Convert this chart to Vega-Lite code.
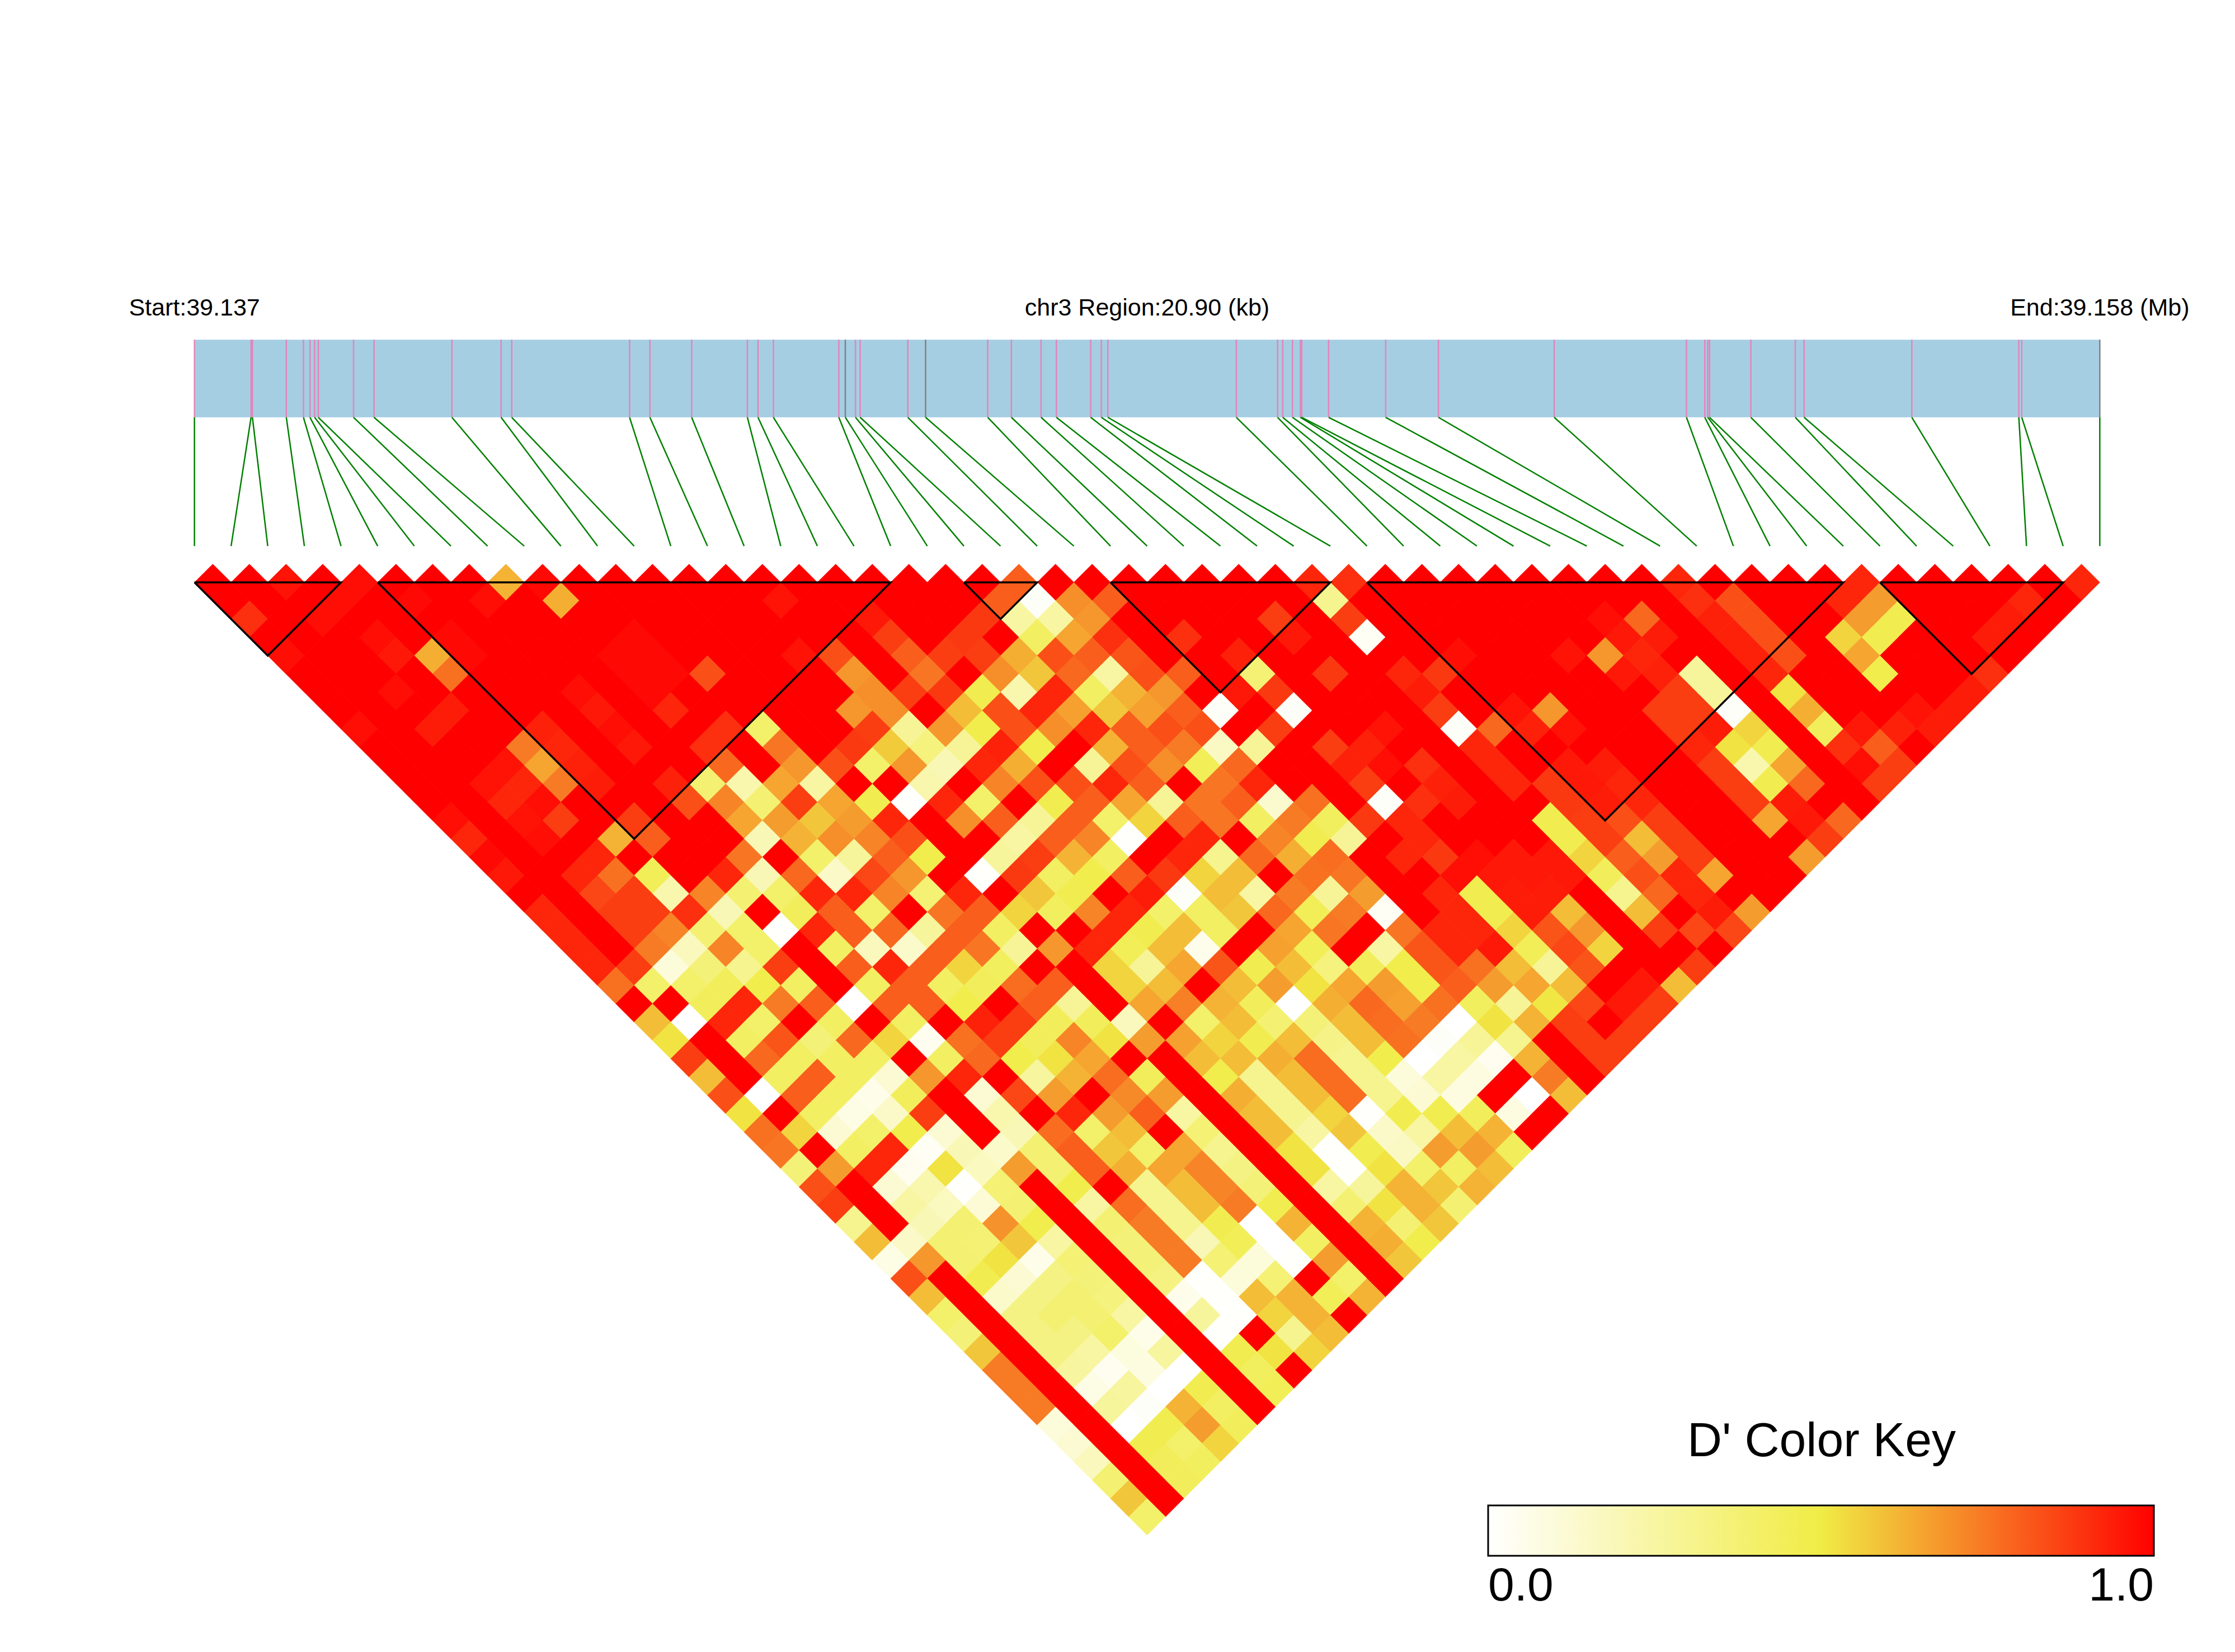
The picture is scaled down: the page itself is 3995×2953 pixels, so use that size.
{"$schema":"https://vega.github.io/schema/vega-lite/v6.json","width":3995,"height":2953,"padding":0,"autosize":{"type":"fit","contains":"padding"},"background":"white","config":{"view":{"stroke":null}},"datasets":{"cells":[
{"x":0.5,"r":0,"d":1},{"x":1.5,"r":0,"d":1},{"x":2.5,"r":0,"d":0.96},{"x":3.5,"r":0,"d":1},{"x":4.5,"r":0,"d":0.97},{"x":5.5,"r":0,"d":1},{"x":6.5,"r":0,"d":1},{"x":7.5,"r":0,"d":1},{"x":8.5,"r":0,"d":0.62},{"x":9.5,"r":0,"d":0.98},{"x":10.5,"r":0,"d":1},{"x":11.5,"r":0,"d":1},{"x":12.5,"r":0,"d":1},{"x":13.5,"r":0,"d":1},{"x":14.5,"r":0,"d":1},{"x":15.5,"r":0,"d":1},{"x":16.5,"r":0,"d":1},{"x":17.5,"r":0,"d":1},{"x":18.5,"r":0,"d":1},{"x":19.5,"r":0,"d":1},{"x":20.5,"r":0,"d":1},{"x":21.5,"r":0,"d":1},{"x":22.5,"r":0,"d":0.8},{"x":23.5,"r":0,"d":1},{"x":24.5,"r":0,"d":1},{"x":25.5,"r":0,"d":1},{"x":26.5,"r":0,"d":1},{"x":27.5,"r":0,"d":1},{"x":28.5,"r":0,"d":1},{"x":29.5,"r":0,"d":1},{"x":30.5,"r":0,"d":0.92},{"x":31.5,"r":0,"d":0.9},{"x":32.5,"r":0,"d":1},{"x":33.5,"r":0,"d":1},{"x":34.5,"r":0,"d":1},{"x":35.5,"r":0,"d":1},{"x":36.5,"r":0,"d":1},{"x":37.5,"r":0,"d":1},{"x":38.5,"r":0,"d":1},{"x":39.5,"r":0,"d":1},{"x":40.5,"r":0,"d":0.92},{"x":41.5,"r":0,"d":1},{"x":42.5,"r":0,"d":1},{"x":43.5,"r":0,"d":1},{"x":44.5,"r":0,"d":1},{"x":45.5,"r":0,"d":0.92},{"x":46.5,"r":0,"d":1},{"x":47.5,"r":0,"d":1},{"x":48.5,"r":0,"d":1},{"x":49.5,"r":0,"d":1},{"x":50.5,"r":0,"d":1},{"x":51.5,"r":0,"d":0.92},
{"x":1,"r":1,"d":1},{"x":2,"r":1,"d":1},{"x":3,"r":1,"d":1},{"x":4,"r":1,"d":0.97},{"x":5,"r":1,"d":1},{"x":6,"r":1,"d":0.98},{"x":7,"r":1,"d":1},{"x":8,"r":1,"d":0.97},{"x":9,"r":1,"d":1},{"x":10,"r":1,"d":0.63},{"x":11,"r":1,"d":1},{"x":12,"r":1,"d":1},{"x":13,"r":1,"d":1},{"x":14,"r":1,"d":1},{"x":15,"r":1,"d":1},{"x":16,"r":1,"d":0.96},{"x":17,"r":1,"d":1},{"x":18,"r":1,"d":1},{"x":19,"r":1,"d":1},{"x":20,"r":1,"d":1},{"x":21,"r":1,"d":1},{"x":22,"r":1,"d":0.8},{"x":23,"r":1,"d":0.02},{"x":24,"r":1,"d":0.7},{"x":25,"r":1,"d":0.8},{"x":26,"r":1,"d":1},{"x":27,"r":1,"d":1},{"x":28,"r":1,"d":1},{"x":29,"r":1,"d":1},{"x":30,"r":1,"d":1},{"x":31,"r":1,"d":0.3},{"x":32,"r":1,"d":1},{"x":33,"r":1,"d":1},{"x":34,"r":1,"d":1},{"x":35,"r":1,"d":1},{"x":36,"r":1,"d":1},{"x":37,"r":1,"d":1},{"x":38,"r":1,"d":1},{"x":39,"r":1,"d":1},{"x":40,"r":1,"d":1},{"x":41,"r":1,"d":0.9},{"x":42,"r":1,"d":0.83},{"x":43,"r":1,"d":1},{"x":44,"r":1,"d":1},{"x":45,"r":1,"d":0.92},{"x":46,"r":1,"d":0.67},{"x":47,"r":1,"d":1},{"x":48,"r":1,"d":1},{"x":49,"r":1,"d":1},{"x":50,"r":1,"d":0.92},{"x":51,"r":1,"d":1},
{"x":1.5,"r":2,"d":0.9},{"x":2.5,"r":2,"d":1},{"x":3.5,"r":2,"d":0.97},{"x":4.5,"r":2,"d":1},{"x":5.5,"r":2,"d":1},{"x":6.5,"r":2,"d":1},{"x":7.5,"r":2,"d":1},{"x":8.5,"r":2,"d":1},{"x":9.5,"r":2,"d":1},{"x":10.5,"r":2,"d":1},{"x":11.5,"r":2,"d":1},{"x":12.5,"r":2,"d":1},{"x":13.5,"r":2,"d":1},{"x":14.5,"r":2,"d":1},{"x":15.5,"r":2,"d":1},{"x":16.5,"r":2,"d":1},{"x":17.5,"r":2,"d":1},{"x":18.5,"r":2,"d":0.95},{"x":19.5,"r":2,"d":1},{"x":20.5,"r":2,"d":1},{"x":21.5,"r":2,"d":0.88},{"x":22.5,"r":2,"d":0.25},{"x":23.5,"r":2,"d":0.25},{"x":24.5,"r":2,"d":0.68},{"x":25.5,"r":2,"d":1},{"x":26.5,"r":2,"d":1},{"x":27.5,"r":2,"d":1},{"x":28.5,"r":2,"d":1},{"x":29.5,"r":2,"d":0.87},{"x":30.5,"r":2,"d":1},{"x":31.5,"r":2,"d":0.87},{"x":32.5,"r":2,"d":1},{"x":33.5,"r":2,"d":1},{"x":34.5,"r":2,"d":1},{"x":35.5,"r":2,"d":1},{"x":36.5,"r":2,"d":1},{"x":37.5,"r":2,"d":1},{"x":38.5,"r":2,"d":0.97},{"x":39.5,"r":2,"d":0.78},{"x":40.5,"r":2,"d":1},{"x":41.5,"r":2,"d":0.93},{"x":42.5,"r":2,"d":0.83},{"x":43.5,"r":2,"d":1},{"x":44.5,"r":2,"d":1},{"x":45.5,"r":2,"d":0.67},{"x":46.5,"r":2,"d":0.47},{"x":47.5,"r":2,"d":1},{"x":48.5,"r":2,"d":1},{"x":49.5,"r":2,"d":0.94},{"x":50.5,"r":2,"d":1},
{"x":2,"r":3,"d":1},{"x":3,"r":3,"d":1},{"x":4,"r":3,"d":1},{"x":5,"r":3,"d":0.97},{"x":6,"r":3,"d":1},{"x":7,"r":3,"d":0.98},{"x":8,"r":3,"d":1},{"x":9,"r":3,"d":1},{"x":10,"r":3,"d":1},{"x":11,"r":3,"d":1},{"x":12,"r":3,"d":0.98},{"x":13,"r":3,"d":1},{"x":14,"r":3,"d":1},{"x":15,"r":3,"d":1},{"x":16,"r":3,"d":1},{"x":17,"r":3,"d":1},{"x":18,"r":3,"d":1},{"x":19,"r":3,"d":0.87},{"x":20,"r":3,"d":1},{"x":21,"r":3,"d":0.88},{"x":22,"r":3,"d":1},{"x":23,"r":3,"d":0.42},{"x":24,"r":3,"d":0.65},{"x":25,"r":3,"d":0.9},{"x":26,"r":3,"d":1},{"x":27,"r":3,"d":0.9},{"x":28,"r":3,"d":1},{"x":29,"r":3,"d":1},{"x":30,"r":3,"d":0.95},{"x":31,"r":3,"d":1},{"x":32,"r":3,"d":0.03},{"x":33,"r":3,"d":1},{"x":34,"r":3,"d":1},{"x":35,"r":3,"d":1},{"x":36,"r":3,"d":1},{"x":37,"r":3,"d":1},{"x":38,"r":3,"d":1},{"x":39,"r":3,"d":0.95},{"x":40,"r":3,"d":0.94},{"x":41,"r":3,"d":1},{"x":42,"r":3,"d":0.93},{"x":43,"r":3,"d":0.83},{"x":44,"r":3,"d":1},{"x":45,"r":3,"d":0.55},{"x":46,"r":3,"d":0.47},{"x":47,"r":3,"d":1},{"x":48,"r":3,"d":1},{"x":49,"r":3,"d":0.94},{"x":50,"r":3,"d":1},
{"x":2.5,"r":4,"d":0.97},{"x":3.5,"r":4,"d":1},{"x":4.5,"r":4,"d":1},{"x":5.5,"r":4,"d":0.95},{"x":6.5,"r":4,"d":0.63},{"x":7.5,"r":4,"d":0.98},{"x":8.5,"r":4,"d":1},{"x":9.5,"r":4,"d":1},{"x":10.5,"r":4,"d":1},{"x":11.5,"r":4,"d":0.98},{"x":12.5,"r":4,"d":0.98},{"x":13.5,"r":4,"d":1},{"x":14.5,"r":4,"d":1},{"x":15.5,"r":4,"d":1},{"x":16.5,"r":4,"d":0.96},{"x":17.5,"r":4,"d":0.83},{"x":18.5,"r":4,"d":1},{"x":19.5,"r":4,"d":0.8},{"x":20.5,"r":4,"d":0.87},{"x":21.5,"r":4,"d":0.87},{"x":22.5,"r":4,"d":0.63},{"x":23.5,"r":4,"d":0.83},{"x":24.5,"r":4,"d":0.8},{"x":25.5,"r":4,"d":0.82},{"x":26.5,"r":4,"d":1},{"x":27.5,"r":4,"d":1},{"x":28.5,"r":4,"d":0.93},{"x":29.5,"r":4,"d":1},{"x":30.5,"r":4,"d":1},{"x":31.5,"r":4,"d":1},{"x":32.5,"r":4,"d":1},{"x":33.5,"r":4,"d":1},{"x":34.5,"r":4,"d":0.97},{"x":35.5,"r":4,"d":1},{"x":36.5,"r":4,"d":1},{"x":37.5,"r":4,"d":0.96},{"x":38.5,"r":4,"d":0.68},{"x":39.5,"r":4,"d":0.92},{"x":40.5,"r":4,"d":1},{"x":41.5,"r":4,"d":1},{"x":42.5,"r":4,"d":0.93},{"x":43.5,"r":4,"d":0.83},{"x":44.5,"r":4,"d":1},{"x":45.5,"r":4,"d":0.65},{"x":46.5,"r":4,"d":1},{"x":47.5,"r":4,"d":1},{"x":48.5,"r":4,"d":1},{"x":49.5,"r":4,"d":1},
{"x":3,"r":5,"d":1},{"x":4,"r":5,"d":1},{"x":5,"r":5,"d":1},{"x":6,"r":5,"d":1},{"x":7,"r":5,"d":0.76},{"x":8,"r":5,"d":1},{"x":9,"r":5,"d":1},{"x":10,"r":5,"d":1},{"x":11,"r":5,"d":1},{"x":12,"r":5,"d":0.98},{"x":13,"r":5,"d":0.98},{"x":14,"r":5,"d":0.83},{"x":15,"r":5,"d":1},{"x":16,"r":5,"d":1},{"x":17,"r":5,"d":1},{"x":18,"r":5,"d":0.68},{"x":19,"r":5,"d":1},{"x":20,"r":5,"d":0.75},{"x":21,"r":5,"d":1},{"x":22,"r":5,"d":0.7},{"x":23,"r":5,"d":0.58},{"x":24,"r":5,"d":0.78},{"x":25,"r":5,"d":0.25},{"x":26,"r":5,"d":0.83},{"x":27,"r":5,"d":0.8},{"x":28,"r":5,"d":1},{"x":29,"r":5,"d":0.37},{"x":30,"r":5,"d":1},{"x":31,"r":5,"d":0.88},{"x":32,"r":5,"d":1},{"x":33,"r":5,"d":0.92},{"x":34,"r":5,"d":0.88},{"x":35,"r":5,"d":1},{"x":36,"r":5,"d":1},{"x":37,"r":5,"d":1},{"x":38,"r":5,"d":1},{"x":39,"r":5,"d":0.95},{"x":40,"r":5,"d":0.93},{"x":41,"r":5,"d":0.27},{"x":42,"r":5,"d":1},{"x":43,"r":5,"d":0.92},{"x":44,"r":5,"d":1},{"x":45,"r":5,"d":1},{"x":46,"r":5,"d":0.48},{"x":47,"r":5,"d":1},{"x":48,"r":5,"d":1},{"x":49,"r":5,"d":0.9},
{"x":3.5,"r":6,"d":1},{"x":4.5,"r":6,"d":1},{"x":5.5,"r":6,"d":0.97},{"x":6.5,"r":6,"d":1},{"x":7.5,"r":6,"d":1},{"x":8.5,"r":6,"d":1},{"x":9.5,"r":6,"d":1},{"x":10.5,"r":6,"d":0.97},{"x":11.5,"r":6,"d":1},{"x":12.5,"r":6,"d":0.98},{"x":13.5,"r":6,"d":1},{"x":14.5,"r":6,"d":1},{"x":15.5,"r":6,"d":1},{"x":16.5,"r":6,"d":1},{"x":17.5,"r":6,"d":1},{"x":18.5,"r":6,"d":0.7},{"x":19.5,"r":6,"d":0.87},{"x":20.5,"r":6,"d":0.88},{"x":21.5,"r":6,"d":0.47},{"x":22.5,"r":6,"d":0.22},{"x":23.5,"r":6,"d":0.92},{"x":24.5,"r":6,"d":0.42},{"x":25.5,"r":6,"d":0.62},{"x":26.5,"r":6,"d":0.68},{"x":27.5,"r":6,"d":1},{"x":28.5,"r":6,"d":0.95},{"x":29.5,"r":6,"d":0.88},{"x":30.5,"r":6,"d":1},{"x":31.5,"r":6,"d":1},{"x":32.5,"r":6,"d":1},{"x":33.5,"r":6,"d":0.94},{"x":34.5,"r":6,"d":1},{"x":35.5,"r":6,"d":1},{"x":36.5,"r":6,"d":1},{"x":37.5,"r":6,"d":1},{"x":38.5,"r":6,"d":1},{"x":39.5,"r":6,"d":1},{"x":40.5,"r":6,"d":0.87},{"x":41.5,"r":6,"d":0.27},{"x":42.5,"r":6,"d":1},{"x":43.5,"r":6,"d":0.52},{"x":44.5,"r":6,"d":1},{"x":45.5,"r":6,"d":1},{"x":46.5,"r":6,"d":1},{"x":47.5,"r":6,"d":1},{"x":48.5,"r":6,"d":0.94},
{"x":4,"r":7,"d":1},{"x":5,"r":7,"d":1},{"x":6,"r":7,"d":1},{"x":7,"r":7,"d":0.94},{"x":8,"r":7,"d":1},{"x":9,"r":7,"d":1},{"x":10,"r":7,"d":1},{"x":11,"r":7,"d":0.95},{"x":12,"r":7,"d":1},{"x":13,"r":7,"d":0.92},{"x":14,"r":7,"d":1},{"x":15,"r":7,"d":1},{"x":16,"r":7,"d":1},{"x":17,"r":7,"d":1},{"x":18,"r":7,"d":0.68},{"x":19,"r":7,"d":0.7},{"x":20,"r":7,"d":1},{"x":21,"r":7,"d":0.6},{"x":22,"r":7,"d":0.83},{"x":23,"r":7,"d":0.92},{"x":24,"r":7,"d":0.66},{"x":25,"r":7,"d":0.58},{"x":26,"r":7,"d":0.66},{"x":27,"r":7,"d":0.8},{"x":28,"r":7,"d":0.02},{"x":29,"r":7,"d":1},{"x":30,"r":7,"d":0.02},{"x":31,"r":7,"d":1},{"x":32,"r":7,"d":1},{"x":33,"r":7,"d":1},{"x":34,"r":7,"d":0.87},{"x":35,"r":7,"d":1},{"x":36,"r":7,"d":0.96},{"x":37,"r":7,"d":0.68},{"x":38,"r":7,"d":1},{"x":39,"r":7,"d":1},{"x":40,"r":7,"d":0.87},{"x":41,"r":7,"d":0.87},{"x":42,"r":7,"d":0.02},{"x":43,"r":7,"d":1},{"x":44,"r":7,"d":0.63},{"x":45,"r":7,"d":1},{"x":46,"r":7,"d":1},{"x":47,"r":7,"d":0.96},{"x":48,"r":7,"d":0.94},
{"x":4.5,"r":8,"d":0.97},{"x":5.5,"r":8,"d":1},{"x":6.5,"r":8,"d":0.94},{"x":7.5,"r":8,"d":1},{"x":8.5,"r":8,"d":1},{"x":9.5,"r":8,"d":0.93},{"x":10.5,"r":8,"d":1},{"x":11.5,"r":8,"d":0.97},{"x":12.5,"r":8,"d":1},{"x":13.5,"r":8,"d":1},{"x":14.5,"r":8,"d":0.9},{"x":15.5,"r":8,"d":0.4},{"x":16.5,"r":8,"d":1},{"x":17.5,"r":8,"d":1},{"x":18.5,"r":8,"d":0.87},{"x":19.5,"r":8,"d":0.28},{"x":20.5,"r":8,"d":0.68},{"x":21.5,"r":8,"d":0.48},{"x":22.5,"r":8,"d":0.83},{"x":23.5,"r":8,"d":0.7},{"x":24.5,"r":8,"d":0.92},{"x":25.5,"r":8,"d":0.8},{"x":26.5,"r":8,"d":0.83},{"x":27.5,"r":8,"d":0.83},{"x":28.5,"r":8,"d":1},{"x":29.5,"r":8,"d":0.87},{"x":30.5,"r":8,"d":1},{"x":31.5,"r":8,"d":1},{"x":32.5,"r":8,"d":0.96},{"x":33.5,"r":8,"d":1},{"x":34.5,"r":8,"d":0.02},{"x":35.5,"r":8,"d":0.78},{"x":36.5,"r":8,"d":0.93},{"x":37.5,"r":8,"d":0.96},{"x":38.5,"r":8,"d":1},{"x":39.5,"r":8,"d":1},{"x":40.5,"r":8,"d":0.87},{"x":41.5,"r":8,"d":0.94},{"x":42.5,"r":8,"d":0.55},{"x":43.5,"r":8,"d":1},{"x":44.5,"r":8,"d":0.44},{"x":45.5,"r":8,"d":0.95},{"x":46.5,"r":8,"d":0.93},{"x":47.5,"r":8,"d":0.94},
{"x":5,"r":9,"d":1},{"x":6,"r":9,"d":1},{"x":7,"r":9,"d":1},{"x":8,"r":9,"d":1},{"x":9,"r":9,"d":0.74},{"x":10,"r":9,"d":0.92},{"x":11,"r":9,"d":1},{"x":12,"r":9,"d":0.95},{"x":13,"r":9,"d":1},{"x":14,"r":9,"d":0.9},{"x":15,"r":9,"d":1},{"x":16,"r":9,"d":0.75},{"x":17,"r":9,"d":1},{"x":18,"r":9,"d":0.88},{"x":19,"r":9,"d":0.57},{"x":20,"r":9,"d":0.35},{"x":21,"r":9,"d":0.28},{"x":22,"r":9,"d":0.93},{"x":23,"r":9,"d":0.48},{"x":24,"r":9,"d":1},{"x":25,"r":9,"d":0.62},{"x":26,"r":9,"d":0.8},{"x":27,"r":9,"d":0.74},{"x":28,"r":9,"d":0.16},{"x":29,"r":9,"d":0.28},{"x":30,"r":9,"d":1},{"x":31,"r":9,"d":0.87},{"x":32,"r":9,"d":0.93},{"x":33,"r":9,"d":1},{"x":34,"r":9,"d":1},{"x":35,"r":9,"d":0.92},{"x":36,"r":9,"d":1},{"x":37,"r":9,"d":1},{"x":38,"r":9,"d":1},{"x":39,"r":9,"d":1},{"x":40,"r":9,"d":1},{"x":41,"r":9,"d":0.92},{"x":42,"r":9,"d":0.52},{"x":43,"r":9,"d":0.47},{"x":44,"r":9,"d":1},{"x":45,"r":9,"d":0.9},{"x":46,"r":9,"d":0.8},{"x":47,"r":9,"d":1},
{"x":5.5,"r":10,"d":1},{"x":6.5,"r":10,"d":1},{"x":7.5,"r":10,"d":1},{"x":8.5,"r":10,"d":0.96},{"x":9.5,"r":10,"d":0.65},{"x":10.5,"r":10,"d":0.93},{"x":11.5,"r":10,"d":1},{"x":12.5,"r":10,"d":1},{"x":13.5,"r":10,"d":1},{"x":14.5,"r":10,"d":0.78},{"x":15.5,"r":10,"d":1},{"x":16.5,"r":10,"d":0.68},{"x":17.5,"r":10,"d":0.83},{"x":18.5,"r":10,"d":0.4},{"x":19.5,"r":10,"d":0.68},{"x":20.5,"r":10,"d":0.2},{"x":21.5,"r":10,"d":0.92},{"x":22.5,"r":10,"d":0.63},{"x":23.5,"r":10,"d":1},{"x":24.5,"r":10,"d":0.28},{"x":25.5,"r":10,"d":0.83},{"x":26.5,"r":10,"d":0.7},{"x":27.5,"r":10,"d":0.45},{"x":28.5,"r":10,"d":0.78},{"x":29.5,"r":10,"d":1},{"x":30.5,"r":10,"d":1},{"x":31.5,"r":10,"d":0.93},{"x":32.5,"r":10,"d":0.97},{"x":33.5,"r":10,"d":0.9},{"x":34.5,"r":10,"d":1},{"x":35.5,"r":10,"d":0.92},{"x":36.5,"r":10,"d":1},{"x":37.5,"r":10,"d":0.95},{"x":38.5,"r":10,"d":0.94},{"x":39.5,"r":10,"d":1},{"x":40.5,"r":10,"d":1},{"x":41.5,"r":10,"d":0.87},{"x":42.5,"r":10,"d":0.22},{"x":43.5,"r":10,"d":0.65},{"x":44.5,"r":10,"d":1},{"x":45.5,"r":10,"d":0.97},{"x":46.5,"r":10,"d":0.87},
{"x":6,"r":11,"d":1},{"x":7,"r":11,"d":1},{"x":8,"r":11,"d":0.96},{"x":9,"r":11,"d":0.92},{"x":10,"r":11,"d":0.74},{"x":11,"r":11,"d":0.94},{"x":12,"r":11,"d":1},{"x":13,"r":11,"d":0.93},{"x":14,"r":11,"d":0.38},{"x":15,"r":11,"d":0.22},{"x":16,"r":11,"d":0.65},{"x":17,"r":11,"d":0.25},{"x":18,"r":11,"d":1},{"x":19,"r":11,"d":1},{"x":20,"r":11,"d":0.22},{"x":21,"r":11,"d":1},{"x":22,"r":11,"d":0.72},{"x":23,"r":11,"d":0.83},{"x":24,"r":11,"d":0.83},{"x":25,"r":11,"d":0.92},{"x":26,"r":11,"d":0.8},{"x":27,"r":11,"d":1},{"x":28,"r":11,"d":0.75},{"x":29,"r":11,"d":0.92},{"x":30,"r":11,"d":1},{"x":31,"r":11,"d":1},{"x":32,"r":11,"d":0.87},{"x":33,"r":11,"d":1},{"x":34,"r":11,"d":0.93},{"x":35,"r":11,"d":1},{"x":36,"r":11,"d":0.92},{"x":37,"r":11,"d":0.88},{"x":38,"r":11,"d":0.95},{"x":39,"r":11,"d":0.92},{"x":40,"r":11,"d":1},{"x":41,"r":11,"d":1},{"x":42,"r":11,"d":0.87},{"x":43,"r":11,"d":0.47},{"x":44,"r":11,"d":0.78},{"x":45,"r":11,"d":1},{"x":46,"r":11,"d":0.87},
{"x":6.5,"r":12,"d":1},{"x":7.5,"r":12,"d":1},{"x":8.5,"r":12,"d":0.92},{"x":9.5,"r":12,"d":0.97},{"x":10.5,"r":12,"d":1},{"x":11.5,"r":12,"d":1},{"x":12.5,"r":12,"d":1},{"x":13.5,"r":12,"d":0.83},{"x":14.5,"r":12,"d":0.72},{"x":15.5,"r":12,"d":0.38},{"x":16.5,"r":12,"d":0.87},{"x":17.5,"r":12,"d":0.65},{"x":18.5,"r":12,"d":0.47},{"x":19.5,"r":12,"d":0.01},{"x":20.5,"r":12,"d":0.92},{"x":21.5,"r":12,"d":0.4},{"x":22.5,"r":12,"d":1},{"x":23.5,"r":12,"d":0.47},{"x":24.5,"r":12,"d":0.8},{"x":25.5,"r":12,"d":0.65},{"x":26.5,"r":12,"d":0.28},{"x":27.5,"r":12,"d":0.75},{"x":28.5,"r":12,"d":0.8},{"x":29.5,"r":12,"d":0.13},{"x":30.5,"r":12,"d":0.76},{"x":31.5,"r":12,"d":1},{"x":32.5,"r":12,"d":0.02},{"x":33.5,"r":12,"d":0.9},{"x":34.5,"r":12,"d":0.94},{"x":35.5,"r":12,"d":1},{"x":36.5,"r":12,"d":1},{"x":37.5,"r":12,"d":0.88},{"x":38.5,"r":12,"d":0.94},{"x":39.5,"r":12,"d":0.92},{"x":40.5,"r":12,"d":1},{"x":41.5,"r":12,"d":1},{"x":42.5,"r":12,"d":0.87},{"x":43.5,"r":12,"d":0.94},{"x":44.5,"r":12,"d":1},{"x":45.5,"r":12,"d":1},
{"x":7,"r":13,"d":0.97},{"x":8,"r":13,"d":1},{"x":9,"r":13,"d":0.96},{"x":10,"r":13,"d":0.87},{"x":11,"r":13,"d":1},{"x":12,"r":13,"d":0.87},{"x":13,"r":13,"d":1},{"x":14,"r":13,"d":1},{"x":15,"r":13,"d":0.65},{"x":16,"r":13,"d":0.67},{"x":17,"r":13,"d":0.58},{"x":18,"r":13,"d":0.67},{"x":19,"r":13,"d":0.92},{"x":20,"r":13,"d":1},{"x":21,"r":13,"d":0.7},{"x":22,"r":13,"d":0.8},{"x":23,"r":13,"d":0.28},{"x":24,"r":13,"d":0.8},{"x":25,"r":13,"d":0.4},{"x":26,"r":13,"d":0.55},{"x":27,"r":13,"d":0.8},{"x":28,"r":13,"d":0.75},{"x":29,"r":13,"d":0.42},{"x":30,"r":13,"d":0.74},{"x":31,"r":13,"d":0.43},{"x":32,"r":13,"d":0.88},{"x":33,"r":13,"d":0.92},{"x":34,"r":13,"d":1},{"x":35,"r":13,"d":1},{"x":36,"r":13,"d":1},{"x":37,"r":13,"d":0.47},{"x":38,"r":13,"d":0.87},{"x":39,"r":13,"d":0.83},{"x":40,"r":13,"d":0.87},{"x":41,"r":13,"d":1},{"x":42,"r":13,"d":1},{"x":43,"r":13,"d":0.65},{"x":44,"r":13,"d":0.95},{"x":45,"r":13,"d":0.78},
{"x":7.5,"r":14,"d":0.92},{"x":8.5,"r":14,"d":1},{"x":9.5,"r":14,"d":0.97},{"x":10.5,"r":14,"d":1},{"x":11.5,"r":14,"d":0.62},{"x":12.5,"r":14,"d":0.8},{"x":13.5,"r":14,"d":1},{"x":14.5,"r":14,"d":1},{"x":15.5,"r":14,"d":0.2},{"x":16.5,"r":14,"d":0.62},{"x":17.5,"r":14,"d":0.7},{"x":18.5,"r":14,"d":0.72},{"x":19.5,"r":14,"d":0.83},{"x":20.5,"r":14,"d":1},{"x":21.5,"r":14,"d":1},{"x":22.5,"r":14,"d":0.25},{"x":23.5,"r":14,"d":0.8},{"x":24.5,"r":14,"d":0.72},{"x":25.5,"r":14,"d":0.01},{"x":26.5,"r":14,"d":1},{"x":27.5,"r":14,"d":0.92},{"x":28.5,"r":14,"d":1},{"x":29.5,"r":14,"d":0.72},{"x":30.5,"r":14,"d":0.47},{"x":31.5,"r":14,"d":0.28},{"x":32.5,"r":14,"d":1},{"x":33.5,"r":14,"d":0.92},{"x":34.5,"r":14,"d":1},{"x":35.5,"r":14,"d":1},{"x":36.5,"r":14,"d":1},{"x":37.5,"r":14,"d":0.47},{"x":38.5,"r":14,"d":0.87},{"x":39.5,"r":14,"d":0.6},{"x":40.5,"r":14,"d":0.87},{"x":41.5,"r":14,"d":1},{"x":42.5,"r":14,"d":1},{"x":43.5,"r":14,"d":1},{"x":44.5,"r":14,"d":0.87},
{"x":8,"r":15,"d":0.98},{"x":9,"r":15,"d":1},{"x":10,"r":15,"d":1},{"x":11,"r":15,"d":0.92},{"x":12,"r":15,"d":1},{"x":13,"r":15,"d":1},{"x":14,"r":15,"d":1},{"x":15,"r":15,"d":0.75},{"x":16,"r":15,"d":1},{"x":17,"r":15,"d":0.4},{"x":18,"r":15,"d":0.27},{"x":19,"r":15,"d":0.8},{"x":20,"r":15,"d":0.48},{"x":21,"r":15,"d":1},{"x":22,"r":15,"d":0.27},{"x":23,"r":15,"d":0.87},{"x":24,"r":15,"d":0.62},{"x":25,"r":15,"d":0.42},{"x":26,"r":15,"d":1},{"x":27,"r":15,"d":0.92},{"x":28,"r":15,"d":0.3},{"x":29,"r":15,"d":0.78},{"x":30,"r":15,"d":0.63},{"x":31,"r":15,"d":0.77},{"x":32,"r":15,"d":1},{"x":33,"r":15,"d":0.92},{"x":34,"r":15,"d":0.88},{"x":35,"r":15,"d":0.97},{"x":36,"r":15,"d":0.95},{"x":37,"r":15,"d":0.95},{"x":38,"r":15,"d":0.55},{"x":39,"r":15,"d":0.8},{"x":40,"r":15,"d":0.67},{"x":41,"r":15,"d":0.87},{"x":42,"r":15,"d":1},{"x":43,"r":15,"d":1},{"x":44,"r":15,"d":0.67},
{"x":8.5,"r":16,"d":0.95},{"x":9.5,"r":16,"d":1},{"x":10.5,"r":16,"d":0.92},{"x":11.5,"r":16,"d":0.76},{"x":12.5,"r":16,"d":0.45},{"x":13.5,"r":16,"d":1},{"x":14.5,"r":16,"d":0.92},{"x":15.5,"r":16,"d":0.2},{"x":16.5,"r":16,"d":0.78},{"x":17.5,"r":16,"d":0.15},{"x":18.5,"r":16,"d":0.85},{"x":19.5,"r":16,"d":0.68},{"x":20.5,"r":16,"d":1},{"x":21.5,"r":16,"d":0.01},{"x":22.5,"r":16,"d":0.88},{"x":23.5,"r":16,"d":0.42},{"x":24.5,"r":16,"d":0.48},{"x":25.5,"r":16,"d":0.8},{"x":26.5,"r":16,"d":0.88},{"x":27.5,"r":16,"d":0.55},{"x":28.5,"r":16,"d":0.6},{"x":29.5,"r":16,"d":1},{"x":30.5,"r":16,"d":0.76},{"x":31.5,"r":16,"d":0.75},{"x":32.5,"r":16,"d":1},{"x":33.5,"r":16,"d":1},{"x":34.5,"r":16,"d":0.97},{"x":35.5,"r":16,"d":0.95},{"x":36.5,"r":16,"d":0.95},{"x":37.5,"r":16,"d":0.95},{"x":38.5,"r":16,"d":0.44},{"x":39.5,"r":16,"d":0.83},{"x":40.5,"r":16,"d":0.92},{"x":41.5,"r":16,"d":0.65},{"x":42.5,"r":16,"d":1},{"x":43.5,"r":16,"d":1},
{"x":9,"r":17,"d":1},{"x":10,"r":17,"d":1},{"x":11,"r":17,"d":0.85},{"x":12,"r":17,"d":0.87},{"x":13,"r":17,"d":0.22},{"x":14,"r":17,"d":0.72},{"x":15,"r":17,"d":0.38},{"x":16,"r":17,"d":0.4},{"x":17,"r":17,"d":0.92},{"x":18,"r":17,"d":0.92},{"x":19,"r":17,"d":0.72},{"x":20,"r":17,"d":0.37},{"x":21,"r":17,"d":0.92},{"x":22,"r":17,"d":1},{"x":23,"r":17,"d":0.58},{"x":24,"r":17,"d":0.47},{"x":25,"r":17,"d":1},{"x":26,"r":17,"d":0.94},{"x":27,"r":17,"d":0.02},{"x":28,"r":17,"d":0.6},{"x":29,"r":17,"d":0.25},{"x":30,"r":17,"d":0.74},{"x":31,"r":17,"d":0.28},{"x":32,"r":17,"d":0.67},{"x":33,"r":17,"d":1},{"x":34,"r":17,"d":0.92},{"x":35,"r":17,"d":0.47},{"x":36,"r":17,"d":0.94},{"x":37,"r":17,"d":0.94},{"x":38,"r":17,"d":1},{"x":39,"r":17,"d":0.3},{"x":40,"r":17,"d":0.78},{"x":41,"r":17,"d":0.92},{"x":42,"r":17,"d":1},{"x":43,"r":17,"d":1},
{"x":9.5,"r":18,"d":0.92},{"x":10.5,"r":18,"d":1},{"x":11.5,"r":18,"d":0.87},{"x":12.5,"r":18,"d":0.87},{"x":13.5,"r":18,"d":0.9},{"x":14.5,"r":18,"d":0.2},{"x":15.5,"r":18,"d":1},{"x":16.5,"r":18,"d":0.44},{"x":17.5,"r":18,"d":0.8},{"x":18.5,"r":18,"d":0.4},{"x":19.5,"r":18,"d":1},{"x":20.5,"r":18,"d":0.75},{"x":21.5,"r":18,"d":0.8},{"x":22.5,"r":18,"d":0.55},{"x":23.5,"r":18,"d":0.43},{"x":24.5,"r":18,"d":0.72},{"x":25.5,"r":18,"d":0.92},{"x":26.5,"r":18,"d":0.4},{"x":27.5,"r":18,"d":0.42},{"x":28.5,"r":18,"d":0.58},{"x":29.5,"r":18,"d":0.78},{"x":30.5,"r":18,"d":0.45},{"x":31.5,"r":18,"d":0.74},{"x":32.5,"r":18,"d":0.03},{"x":33.5,"r":18,"d":1},{"x":34.5,"r":18,"d":0.92},{"x":35.5,"r":18,"d":0.47},{"x":36.5,"r":18,"d":0.94},{"x":37.5,"r":18,"d":0.6},{"x":38.5,"r":18,"d":1},{"x":39.5,"r":18,"d":0.6},{"x":40.5,"r":18,"d":1},{"x":41.5,"r":18,"d":0.94},{"x":42.5,"r":18,"d":0.67},
{"x":10,"r":19,"d":0.92},{"x":11,"r":19,"d":1},{"x":12,"r":19,"d":0.87},{"x":13,"r":19,"d":0.72},{"x":14,"r":19,"d":0.38},{"x":15,"r":19,"d":0.4},{"x":16,"r":19,"d":0.01},{"x":17,"r":19,"d":0.92},{"x":18,"r":19,"d":0.8},{"x":19,"r":19,"d":0.78},{"x":20,"r":19,"d":0.27},{"x":21,"r":19,"d":0.8},{"x":22,"r":19,"d":0.42},{"x":23,"r":19,"d":1},{"x":24,"r":19,"d":1},{"x":25,"r":19,"d":0.92},{"x":26,"r":19,"d":0.47},{"x":27,"r":19,"d":0.6},{"x":28,"r":19,"d":0.42},{"x":29,"r":19,"d":1},{"x":30,"r":19,"d":0.65},{"x":31,"r":19,"d":0.75},{"x":32,"r":19,"d":1},{"x":33,"r":19,"d":0.75},{"x":34,"r":19,"d":0.92},{"x":35,"r":19,"d":0.92},{"x":36,"r":19,"d":0.55},{"x":37,"r":19,"d":0.82},{"x":38,"r":19,"d":0.68},{"x":39,"r":19,"d":1},{"x":40,"r":19,"d":0.87},{"x":41,"r":19,"d":0.85},{"x":42,"r":19,"d":0.85},
{"x":10.5,"r":20,"d":0.92},{"x":11.5,"r":20,"d":1},{"x":12.5,"r":20,"d":0.74},{"x":13.5,"r":20,"d":0.18},{"x":14.5,"r":20,"d":0.72},{"x":15.5,"r":20,"d":0.4},{"x":16.5,"r":20,"d":1},{"x":17.5,"r":20,"d":0.42},{"x":18.5,"r":20,"d":0.18},{"x":19.5,"r":20,"d":0.14},{"x":20.5,"r":20,"d":0.8},{"x":21.5,"r":20,"d":0.75},{"x":22.5,"r":20,"d":0.28},{"x":23.5,"r":20,"d":0.68},{"x":24.5,"r":20,"d":0.92},{"x":25.5,"r":20,"d":0.45},{"x":26.5,"r":20,"d":0.6},{"x":27.5,"r":20,"d":0.05},{"x":28.5,"r":20,"d":1},{"x":29.5,"r":20,"d":0.66},{"x":30.5,"r":20,"d":0.45},{"x":31.5,"r":20,"d":1},{"x":32.5,"r":20,"d":0.25},{"x":33.5,"r":20,"d":0.82},{"x":34.5,"r":20,"d":0.92},{"x":35.5,"r":20,"d":0.95},{"x":36.5,"r":20,"d":0.45},{"x":37.5,"r":20,"d":0.85},{"x":38.5,"r":20,"d":0.55},{"x":39.5,"r":20,"d":1},{"x":40.5,"r":20,"d":1},{"x":41.5,"r":20,"d":1},
{"x":11,"r":21,"d":0.92},{"x":12,"r":21,"d":0.87},{"x":13,"r":21,"d":0.1},{"x":14,"r":21,"d":0.36},{"x":15,"r":21,"d":0.3},{"x":16,"r":21,"d":0.87},{"x":17,"r":21,"d":1},{"x":18,"r":21,"d":0.8},{"x":19,"r":21,"d":0.92},{"x":20,"r":21,"d":0.8},{"x":21,"r":21,"d":0.55},{"x":22,"r":21,"d":0.43},{"x":23,"r":21,"d":1},{"x":24,"r":21,"d":1},{"x":25,"r":21,"d":0.55},{"x":26,"r":21,"d":0.28},{"x":27,"r":21,"d":0.65},{"x":28,"r":21,"d":0.82},{"x":29,"r":21,"d":0.47},{"x":30,"r":21,"d":0.6},{"x":31,"r":21,"d":0.35},{"x":32,"r":21,"d":0.44},{"x":33,"r":21,"d":0.48},{"x":34,"r":21,"d":0.82},{"x":35,"r":21,"d":0.76},{"x":36,"r":21,"d":0.6},{"x":37,"r":21,"d":0.28},{"x":38,"r":21,"d":0.82},{"x":39,"r":21,"d":1},{"x":40,"r":21,"d":1},{"x":41,"r":21,"d":0.87},
{"x":11.5,"r":22,"d":0.76},{"x":12.5,"r":22,"d":0.4},{"x":13.5,"r":22,"d":0.4},{"x":14.5,"r":22,"d":0.44},{"x":15.5,"r":22,"d":0.48},{"x":16.5,"r":22,"d":0.42},{"x":17.5,"r":22,"d":1},{"x":18.5,"r":22,"d":0.42},{"x":19.5,"r":22,"d":0.8},{"x":20.5,"r":22,"d":0.42},{"x":21.5,"r":22,"d":0.44},{"x":22.5,"r":22,"d":0.77},{"x":23.5,"r":22,"d":0.8},{"x":24.5,"r":22,"d":1},{"x":25.5,"r":22,"d":0.55},{"x":26.5,"r":22,"d":0.6},{"x":27.5,"r":22,"d":1},{"x":28.5,"r":22,"d":0.6},{"x":29.5,"r":22,"d":0.67},{"x":30.5,"r":22,"d":0.52},{"x":31.5,"r":22,"d":0.65},{"x":32.5,"r":22,"d":0.67},{"x":33.5,"r":22,"d":0.48},{"x":34.5,"r":22,"d":0.8},{"x":35.5,"r":22,"d":0.67},{"x":36.5,"r":22,"d":0.65},{"x":37.5,"r":22,"d":0.6},{"x":38.5,"r":22,"d":1},{"x":39.5,"r":22,"d":0.95},{"x":40.5,"r":22,"d":0.6},
{"x":12,"r":23,"d":1},{"x":13,"r":23,"d":1},{"x":14,"r":23,"d":0.44},{"x":15,"r":23,"d":0.92},{"x":16,"r":23,"d":0.74},{"x":17,"r":23,"d":0.8},{"x":18,"r":23,"d":0},{"x":19,"r":23,"d":0.8},{"x":20,"r":23,"d":0.8},{"x":21,"r":23,"d":0.48},{"x":22,"r":23,"d":1},{"x":23,"r":23,"d":0.8},{"x":24,"r":23,"d":0.28},{"x":25,"r":23,"d":1},{"x":26,"r":23,"d":0.65},{"x":27,"r":23,"d":0.73},{"x":28,"r":23,"d":0.62},{"x":29,"r":23,"d":0.44},{"x":30,"r":23,"d":0},{"x":31,"r":23,"d":0.63},{"x":32,"r":23,"d":0.78},{"x":33,"r":23,"d":0.66},{"x":34,"r":23,"d":0.76},{"x":35,"r":23,"d":0.43},{"x":36,"r":23,"d":0.28},{"x":37,"r":23,"d":0.51},{"x":38,"r":23,"d":0.85},{"x":39,"r":23,"d":0.95},{"x":40,"r":23,"d":0.87},
{"x":12.5,"r":24,"d":0.6},{"x":13.5,"r":24,"d":0},{"x":14.5,"r":24,"d":0.92},{"x":15.5,"r":24,"d":0.4},{"x":16.5,"r":24,"d":1},{"x":17.5,"r":24,"d":0.42},{"x":18.5,"r":24,"d":1},{"x":19.5,"r":24,"d":0.42},{"x":20.5,"r":24,"d":1},{"x":21.5,"r":24,"d":0.93},{"x":22.5,"r":24,"d":0.87},{"x":23.5,"r":24,"d":0.44},{"x":24.5,"r":24,"d":0.44},{"x":25.5,"r":24,"d":0.18},{"x":26.5,"r":24,"d":1},{"x":27.5,"r":24,"d":0.4},{"x":28.5,"r":24,"d":0.6},{"x":29.5,"r":24,"d":0.38},{"x":30.5,"r":24,"d":0.36},{"x":31.5,"r":24,"d":0.6},{"x":32.5,"r":24,"d":0.77},{"x":33.5,"r":24,"d":0.74},{"x":34.5,"r":24,"d":0},{"x":35.5,"r":24,"d":0.52},{"x":36.5,"r":24,"d":0.62},{"x":37.5,"r":24,"d":0.87},{"x":38.5,"r":24,"d":1},{"x":39.5,"r":24,"d":0.87},
{"x":13,"r":25,"d":0.52},{"x":14,"r":25,"d":1},{"x":15,"r":25,"d":0.42},{"x":16,"r":25,"d":0.82},{"x":17,"r":25,"d":0.36},{"x":18,"r":25,"d":0.78},{"x":19,"r":25,"d":0.55},{"x":20,"r":25,"d":0.04},{"x":21,"r":25,"d":0.76},{"x":22,"r":25,"d":0.87},{"x":23,"r":25,"d":0.44},{"x":24,"r":25,"d":0.72},{"x":25,"r":25,"d":0.52},{"x":26,"r":25,"d":0.67},{"x":27,"r":25,"d":0.66},{"x":28,"r":25,"d":0.55},{"x":29,"r":25,"d":0.47},{"x":30,"r":25,"d":0.6},{"x":31,"r":25,"d":0.32},{"x":32,"r":25,"d":0.6},{"x":33,"r":25,"d":0.76},{"x":34,"r":25,"d":0.02},{"x":35,"r":25,"d":0.28},{"x":36,"r":25,"d":0.3},{"x":37,"r":25,"d":1},{"x":38,"r":25,"d":0.87},{"x":39,"r":25,"d":0.87},
{"x":13.5,"r":26,"d":0.87},{"x":14.5,"r":26,"d":1},{"x":15.5,"r":26,"d":0.78},{"x":16.5,"r":26,"d":0.42},{"x":17.5,"r":26,"d":0.42},{"x":18.5,"r":26,"d":0.42},{"x":19.5,"r":26,"d":1},{"x":20.5,"r":26,"d":0.42},{"x":21.5,"r":26,"d":0.78},{"x":22.5,"r":26,"d":0.48},{"x":23.5,"r":26,"d":0.52},{"x":24.5,"r":26,"d":0.65},{"x":25.5,"r":26,"d":1},{"x":26.5,"r":26,"d":1},{"x":27.5,"r":26,"d":0.6},{"x":28.5,"r":26,"d":0.6},{"x":29.5,"r":26,"d":0.63},{"x":30.5,"r":26,"d":0.77},{"x":31.5,"r":26,"d":0.3},{"x":32.5,"r":26,"d":0.48},{"x":33.5,"r":26,"d":0},{"x":34.5,"r":26,"d":0.25},{"x":35.5,"r":26,"d":0.04},{"x":36.5,"r":26,"d":0.62},{"x":37.5,"r":26,"d":1},{"x":38.5,"r":26,"d":0.87},
{"x":14,"r":27,"d":0.6},{"x":15,"r":27,"d":1},{"x":16,"r":27,"d":0.42},{"x":17,"r":27,"d":0.8},{"x":18,"r":27,"d":0.42},{"x":19,"r":27,"d":0.12},{"x":20,"r":27,"d":0.68},{"x":21,"r":27,"d":0.92},{"x":22,"r":27,"d":1},{"x":23,"r":27,"d":0.26},{"x":24,"r":27,"d":0.62},{"x":25,"r":27,"d":0.77},{"x":26,"r":27,"d":0.44},{"x":27,"r":27,"d":1},{"x":28,"r":27,"d":0.48},{"x":29,"r":27,"d":0.3},{"x":30,"r":27,"d":0.6},{"x":31,"r":27,"d":0.77},{"x":32,"r":27,"d":0.3},{"x":33,"r":27,"d":0.1},{"x":34,"r":27,"d":0.25},{"x":35,"r":27,"d":0.08},{"x":36,"r":27,"d":1},{"x":37,"r":27,"d":0.74},{"x":38,"r":27,"d":1},
{"x":14.5,"r":28,"d":0.83},{"x":15.5,"r":28,"d":0},{"x":16.5,"r":28,"d":0.8},{"x":17.5,"r":28,"d":0.42},{"x":18.5,"r":28,"d":0.06},{"x":19.5,"r":28,"d":0.44},{"x":20.5,"r":28,"d":1},{"x":21.5,"r":28,"d":0.12},{"x":22.5,"r":28,"d":0.85},{"x":23.5,"r":28,"d":0.67},{"x":24.5,"r":28,"d":1},{"x":25.5,"r":28,"d":0.71},{"x":26.5,"r":28,"d":0.67},{"x":27.5,"r":28,"d":1},{"x":28.5,"r":28,"d":0.63},{"x":29.5,"r":28,"d":0.3},{"x":30.5,"r":28,"d":0.6},{"x":31.5,"r":28,"d":0.77},{"x":32.5,"r":28,"d":0.3},{"x":33.5,"r":28,"d":0.12},{"x":34.5,"r":28,"d":0.08},{"x":35.5,"r":28,"d":1},{"x":36.5,"r":28,"d":0},{"x":37.5,"r":28,"d":0.6},
{"x":15,"r":29,"d":0.52},{"x":16,"r":29,"d":1},{"x":17,"r":29,"d":0.42},{"x":18,"r":29,"d":0.07},{"x":19,"r":29,"d":0.15},{"x":20,"r":29,"d":0.87},{"x":21,"r":29,"d":1},{"x":22,"r":29,"d":0.22},{"x":23,"r":29,"d":1},{"x":24,"r":29,"d":0.92},{"x":25,"r":29,"d":0.67},{"x":26,"r":29,"d":0.8},{"x":27,"r":29,"d":0.25},{"x":28,"r":29,"d":1},{"x":29,"r":29,"d":0.6},{"x":30,"r":29,"d":0.3},{"x":31,"r":29,"d":0.55},{"x":32,"r":29,"d":0.01},{"x":33,"r":29,"d":0.47},{"x":34,"r":29,"d":0.47},{"x":35,"r":29,"d":0.44},{"x":36,"r":29,"d":0.08},{"x":37,"r":29,"d":1},
{"x":15.5,"r":30,"d":0.76},{"x":16.5,"r":30,"d":0.55},{"x":17.5,"r":30,"d":0.12},{"x":18.5,"r":30,"d":0.4},{"x":19.5,"r":30,"d":0.48},{"x":20.5,"r":30,"d":0.12},{"x":21.5,"r":30,"d":1},{"x":22.5,"r":30,"d":0.2},{"x":23.5,"r":30,"d":0.77},{"x":24.5,"r":30,"d":0.4},{"x":25.5,"r":30,"d":0.6},{"x":26.5,"r":30,"d":1},{"x":27.5,"r":30,"d":0.37},{"x":28.5,"r":30,"d":1},{"x":29.5,"r":30,"d":0.6},{"x":30.5,"r":30,"d":0.25},{"x":31.5,"r":30,"d":0.58},{"x":32.5,"r":30,"d":0.15},{"x":33.5,"r":30,"d":0.25},{"x":34.5,"r":30,"d":0.6},{"x":35.5,"r":30,"d":0.62},{"x":36.5,"r":30,"d":1},
{"x":16,"r":31,"d":0.75},{"x":17,"r":31,"d":1},{"x":18,"r":31,"d":0.42},{"x":19,"r":31,"d":0.92},{"x":20,"r":31,"d":0.03},{"x":21,"r":31,"d":0.2},{"x":22,"r":31,"d":0.14},{"x":23,"r":31,"d":0.38},{"x":24,"r":31,"d":0.8},{"x":25,"r":31,"d":0.58},{"x":26,"r":31,"d":0.4},{"x":27,"r":31,"d":0.65},{"x":28,"r":31,"d":0.3},{"x":29,"r":31,"d":1},{"x":30,"r":31,"d":0.52},{"x":31,"r":31,"d":0.01},{"x":32,"r":31,"d":0.47},{"x":33,"r":31,"d":0.16},{"x":34,"r":31,"d":0.67},{"x":35,"r":31,"d":0.67},{"x":36,"r":31,"d":0.44},
{"x":16.5,"r":32,"d":0.36},{"x":17.5,"r":32,"d":0.67},{"x":18.5,"r":32,"d":0.92},{"x":19.5,"r":32,"d":0.04},{"x":20.5,"r":32,"d":0.52},{"x":21.5,"r":32,"d":0.17},{"x":22.5,"r":32,"d":0.67},{"x":23.5,"r":32,"d":0.38},{"x":24.5,"r":32,"d":0.8},{"x":25.5,"r":32,"d":0.63},{"x":26.5,"r":32,"d":0.65},{"x":27.5,"r":32,"d":0.72},{"x":28.5,"r":32,"d":0.33},{"x":29.5,"r":32,"d":1},{"x":30.5,"r":32,"d":0.52},{"x":31.5,"r":32,"d":0.01},{"x":32.5,"r":32,"d":0.52},{"x":33.5,"r":32,"d":0.4},{"x":34.5,"r":32,"d":0.42},{"x":35.5,"r":32,"d":0.6},
{"x":17,"r":33,"d":0.83},{"x":18,"r":33,"d":1},{"x":19,"r":33,"d":0.12},{"x":20,"r":33,"d":0.22},{"x":21,"r":33,"d":0.01},{"x":22,"r":33,"d":0.37},{"x":23,"r":33,"d":1},{"x":24,"r":33,"d":0.48},{"x":25,"r":33,"d":1},{"x":26,"r":33,"d":0.3},{"x":27,"r":33,"d":0.6},{"x":28,"r":33,"d":0.72},{"x":29,"r":33,"d":0.36},{"x":30,"r":33,"d":1},{"x":31,"r":33,"d":0.25},{"x":32,"r":33,"d":0.27},{"x":33,"r":33,"d":0.62},{"x":34,"r":33,"d":0.58},{"x":35,"r":33,"d":0.62},
{"x":17.5,"r":34,"d":0.87},{"x":18.5,"r":34,"d":1},{"x":19.5,"r":34,"d":0.25},{"x":20.5,"r":34,"d":0.17},{"x":21.5,"r":34,"d":0.11},{"x":22.5,"r":34,"d":0.38},{"x":23.5,"r":34,"d":1},{"x":24.5,"r":34,"d":0.25},{"x":25.5,"r":34,"d":0.77},{"x":26.5,"r":34,"d":0.3},{"x":27.5,"r":34,"d":0.6},{"x":28.5,"r":34,"d":0.74},{"x":29.5,"r":34,"d":0.47},{"x":30.5,"r":34,"d":1},{"x":31.5,"r":34,"d":0.38},{"x":32.5,"r":34,"d":0.52},{"x":33.5,"r":34,"d":0.62},{"x":34.5,"r":34,"d":0.38},
{"x":18,"r":35,"d":0.3},{"x":19,"r":35,"d":1},{"x":20,"r":35,"d":0.2},{"x":21,"r":35,"d":0.38},{"x":22,"r":35,"d":0.69},{"x":23,"r":35,"d":0.48},{"x":24,"r":35,"d":1},{"x":25,"r":35,"d":0.38},{"x":26,"r":35,"d":0.74},{"x":27,"r":35,"d":0.3},{"x":28,"r":35,"d":0.47},{"x":29,"r":35,"d":0},{"x":30,"r":35,"d":0.62},{"x":31,"r":35,"d":1},{"x":32,"r":35,"d":0.62},{"x":33,"r":35,"d":0.38},{"x":34,"r":35,"d":0.58},
{"x":18.5,"r":36,"d":0.6},{"x":19.5,"r":36,"d":0.15},{"x":20.5,"r":36,"d":0.38},{"x":21.5,"r":36,"d":0.37},{"x":22.5,"r":36,"d":0.58},{"x":23.5,"r":36,"d":0.25},{"x":24.5,"r":36,"d":1},{"x":25.5,"r":36,"d":0.36},{"x":26.5,"r":36,"d":0.74},{"x":27.5,"r":36,"d":0.2},{"x":28.5,"r":36,"d":0.45},{"x":29.5,"r":36,"d":0},{"x":30.5,"r":36,"d":0.42},{"x":31.5,"r":36,"d":1},{"x":32.5,"r":36,"d":0.63},{"x":33.5,"r":36,"d":0.48},
{"x":19,"r":37,"d":0.07},{"x":20,"r":37,"d":0.68},{"x":21,"r":37,"d":0.38},{"x":22,"r":37,"d":0.52},{"x":23,"r":37,"d":0.06},{"x":24,"r":37,"d":0.37},{"x":25,"r":37,"d":1},{"x":26,"r":37,"d":0.36},{"x":27,"r":37,"d":0.74},{"x":28,"r":37,"d":0.37},{"x":29,"r":37,"d":0.1},{"x":30,"r":37,"d":0.01},{"x":31,"r":37,"d":0.67},{"x":32,"r":37,"d":1},{"x":33,"r":37,"d":0.58},
{"x":19.5,"r":38,"d":0.83},{"x":20.5,"r":38,"d":1},{"x":21.5,"r":38,"d":0.47},{"x":22.5,"r":38,"d":0.12},{"x":23.5,"r":38,"d":0.33},{"x":24.5,"r":38,"d":0.36},{"x":25.5,"r":38,"d":1},{"x":26.5,"r":38,"d":0.34},{"x":27.5,"r":38,"d":0.01},{"x":28.5,"r":38,"d":0.1},{"x":29.5,"r":38,"d":0.37},{"x":30.5,"r":38,"d":1},{"x":31.5,"r":38,"d":0.4},{"x":32.5,"r":38,"d":1},
{"x":20,"r":39,"d":0.6},{"x":21,"r":39,"d":1},{"x":22,"r":39,"d":0.14},{"x":23,"r":39,"d":0.33},{"x":24,"r":39,"d":0.38},{"x":25,"r":39,"d":0.35},{"x":26,"r":39,"d":1},{"x":27,"r":39,"d":0.05},{"x":28,"r":39,"d":0.01},{"x":29,"r":39,"d":0.6},{"x":30,"r":39,"d":0.62},{"x":31,"r":39,"d":0.45},{"x":32,"r":39,"d":0.62},
{"x":20.5,"r":40,"d":0.4},{"x":21.5,"r":40,"d":1},{"x":22.5,"r":40,"d":0.33},{"x":23.5,"r":40,"d":0.38},{"x":24.5,"r":40,"d":0.38},{"x":25.5,"r":40,"d":0.25},{"x":26.5,"r":40,"d":1},{"x":27.5,"r":40,"d":0.27},{"x":28.5,"r":40,"d":0.01},{"x":29.5,"r":40,"d":0.55},{"x":30.5,"r":40,"d":0.62},{"x":31.5,"r":40,"d":1},
{"x":21,"r":41,"d":0.36},{"x":22,"r":41,"d":1},{"x":23,"r":41,"d":0.33},{"x":24,"r":41,"d":0.33},{"x":25,"r":41,"d":0.4},{"x":26,"r":41,"d":0.06},{"x":27,"r":41,"d":1},{"x":28,"r":41,"d":0.01},{"x":29,"r":41,"d":1},{"x":30,"r":41,"d":0.3},{"x":31,"r":41,"d":0.6},
{"x":21.5,"r":42,"d":0.58},{"x":22.5,"r":42,"d":1},{"x":23.5,"r":42,"d":0.33},{"x":24.5,"r":42,"d":0.25},{"x":25.5,"r":42,"d":0.09},{"x":26.5,"r":42,"d":0.26},{"x":27.5,"r":42,"d":1},{"x":28.5,"r":42,"d":0.47},{"x":29.5,"r":42,"d":0.52},{"x":30.5,"r":42,"d":0.55},
{"x":22,"r":43,"d":0.74},{"x":23,"r":43,"d":1},{"x":24,"r":43,"d":0.26},{"x":25,"r":43,"d":0.04},{"x":26,"r":43,"d":0.08},{"x":27,"r":43,"d":0},{"x":28,"r":43,"d":1},{"x":29,"r":43,"d":0.43},{"x":30,"r":43,"d":1},
{"x":22.5,"r":44,"d":0.74},{"x":23.5,"r":44,"d":1},{"x":24.5,"r":44,"d":0.07},{"x":25.5,"r":44,"d":0.26},{"x":26.5,"r":44,"d":0},{"x":27.5,"r":44,"d":0.47},{"x":28.5,"r":44,"d":1},{"x":29.5,"r":44,"d":0.45},
{"x":23,"r":45,"d":0.74},{"x":24,"r":45,"d":1},{"x":25,"r":45,"d":0.27},{"x":26,"r":45,"d":0.02},{"x":27,"r":45,"d":0.62},{"x":28,"r":45,"d":0.42},{"x":29,"r":45,"d":1},
{"x":23.5,"r":46,"d":0.1},{"x":24.5,"r":46,"d":1},{"x":25.5,"r":46,"d":0},{"x":26.5,"r":46,"d":0.47},{"x":27.5,"r":46,"d":0.67},{"x":28.5,"r":46,"d":0.44},
{"x":24,"r":47,"d":0.12},{"x":25,"r":47,"d":1},{"x":26,"r":47,"d":0.47},{"x":27,"r":47,"d":0.4},{"x":28,"r":47,"d":0.55},
{"x":24.5,"r":48,"d":0.18},{"x":25.5,"r":48,"d":1},{"x":26.5,"r":48,"d":0.44},{"x":27.5,"r":48,"d":0.43},
{"x":25,"r":49,"d":0.38},{"x":26,"r":49,"d":1},{"x":27,"r":49,"d":0.44},
{"x":25.5,"r":50,"d":0.58},{"x":26.5,"r":50,"d":1},
{"x":26,"r":51,"d":0.4}
],"snps":[{"i":0,"pos":0,"t":"a"},{"i":1,"pos":1.545,"t":"a"},{"i":2,"pos":1.582,"t":"a"},{"i":3,"pos":2.507,"t":"a"},{"i":4,"pos":2.975,"t":"a"},{"i":5,"pos":3.153,"t":"a"},{"i":6,"pos":3.279,"t":"a"},{"i":7,"pos":3.38,"t":"a"},{"i":8,"pos":4.342,"t":"a"},{"i":9,"pos":4.9,"t":"a"},{"i":10,"pos":7.026,"t":"a"},{"i":11,"pos":8.368,"t":"a"},{"i":12,"pos":8.66,"t":"a"},{"i":13,"pos":11.875,"t":"a"},{"i":14,"pos":12.43,"t":"a"},{"i":15,"pos":13.57,"t":"a"},{"i":16,"pos":15.09,"t":"a"},{"i":17,"pos":15.38,"t":"a"},{"i":18,"pos":15.8,"t":"a"},{"i":19,"pos":17.586,"t":"a"},{"i":20,"pos":17.763,"t":"b"},{"i":21,"pos":18.04,"t":"a"},{"i":22,"pos":18.168,"t":"a"},{"i":23,"pos":19.47,"t":"a"},{"i":24,"pos":19.953,"t":"b"},{"i":25,"pos":21.65,"t":"a"},{"i":26,"pos":22.295,"t":"a"},{"i":27,"pos":23.105,"t":"a"},{"i":28,"pos":23.523,"t":"a"},{"i":29,"pos":24.459,"t":"a"},{"i":30,"pos":24.75,"t":"a"},{"i":31,"pos":24.928,"t":"a"},{"i":32,"pos":28.434,"t":"a"},{"i":33,"pos":29.56,"t":"a"},{"i":34,"pos":29.7,"t":"a"},{"i":35,"pos":29.966,"t":"a"},{"i":36,"pos":30.18,"t":"a"},{"i":37,"pos":30.22,"t":"a"},{"i":38,"pos":30.953,"t":"a"},{"i":39,"pos":32.51,"t":"a"},{"i":40,"pos":33.95,"t":"a"},{"i":41,"pos":37.11,"t":"a"},{"i":42,"pos":40.72,"t":"a"},{"i":43,"pos":41.22,"t":"a"},{"i":44,"pos":41.3,"t":"a"},{"i":45,"pos":41.35,"t":"a"},{"i":46,"pos":42.477,"t":"a"},{"i":47,"pos":43.69,"t":"a"},{"i":48,"pos":43.93,"t":"a"},{"i":49,"pos":46.87,"t":"a"},{"i":50,"pos":49.79,"t":"a"},{"i":51,"pos":49.87,"t":"a"},{"i":52,"pos":52,"t":"b"}],"blocks":[{"b":1,"x":0,"r":0,"o":1},{"b":1,"x":4,"r":0,"o":2},{"b":1,"x":2,"r":4,"o":3},{"b":1,"x":0,"r":0,"o":4},{"b":2,"x":5,"r":0,"o":1},{"b":2,"x":19,"r":0,"o":2},{"b":2,"x":12,"r":14,"o":3},{"b":2,"x":5,"r":0,"o":4},{"b":3,"x":21,"r":0,"o":1},{"b":3,"x":23,"r":0,"o":2},{"b":3,"x":22,"r":2,"o":3},{"b":3,"x":21,"r":0,"o":4},{"b":4,"x":25,"r":0,"o":1},{"b":4,"x":31,"r":0,"o":2},{"b":4,"x":28,"r":6,"o":3},{"b":4,"x":25,"r":0,"o":4},{"b":5,"x":32,"r":0,"o":1},{"b":5,"x":45,"r":0,"o":2},{"b":5,"x":38.5,"r":13,"o":3},{"b":5,"x":32,"r":0,"o":4},{"b":6,"x":46,"r":0,"o":1},{"b":6,"x":51,"r":0,"o":2},{"b":6,"x":48.5,"r":5,"o":3},{"b":6,"x":46,"r":0,"o":4}]},"layer":[{"data":{"values":[{}]},"mark":{"type":"rect","fill":"#A6CEE3"},"encoding":{"x":{"datum":0,"type":"quantitative","scale":{"domain":[-5.307,55.69],"nice":false,"zero":false},"axis":null},"x2":{"datum":52},"y":{"datum":-13.25,"type":"quantitative","scale":{"domain":[-31.79,58.38],"nice":false,"zero":false,"reverse":true},"axis":null},"y2":{"datum":-9.01}}},{"data":{"name":"snps"},"mark":{"type":"rule","strokeWidth":2.5},"encoding":{"x":{"field":"pos","type":"quantitative","axis":null},"y":{"datum":-13.25,"type":"quantitative","axis":null},"y2":{"datum":-9.01},"stroke":{"field":"t","type":"nominal","scale":{"domain":["a","b"],"range":["#E285BA","#808080"]},"legend":null}}},{"data":{"name":"snps"},"mark":{"type":"rule","strokeWidth":2.5,"stroke":"#008000"},"encoding":{"x":{"field":"pos","type":"quantitative","axis":null},"x2":{"field":"i"},"y":{"datum":-9.01,"type":"quantitative","axis":null},"y2":{"datum":-1.985}}},{"data":{"name":"cells"},"mark":{"type":"point","shape":"diamond","filled":true,"opacity":1,"size":4400,"strokeWidth":0},"encoding":{"x":{"field":"x","type":"quantitative","axis":null},"y":{"field":"r","type":"quantitative","axis":null},"fill":{"field":"d","type":"quantitative","scale":{"domain":[0,0.5,1],"range":["#FFFFFF","#F0EC45","#FF0000"],"interpolate":"rgb"},"legend":{"type":"gradient","orient":"none","legendX":2660,"legendY":2535,"direction":"horizontal","gradientLength":1190,"gradientThickness":90,"gradientStrokeColor":"#000000","gradientStrokeWidth":3,"title":"D' Color Key","titleLimit":2000,"titleFont":"Liberation Sans","titleFontSize":86,"titleFontWeight":"normal","titleColor":"#000000","titleAnchor":"middle","titlePadding":70,"labelFont":"Liberation Sans","labelFontSize":84,"labelColor":"#000000","labelOverlap":false,"labelOffset":14,"values":[0,1],"format":".1f"}}}},{"data":{"name":"blocks"},"mark":{"type":"line","stroke":"#000000","strokeWidth":3.5},"encoding":{"x":{"field":"x","type":"quantitative","axis":null},"y":{"field":"r","type":"quantitative","axis":null},"detail":{"field":"b"},"order":{"field":"o","type":"quantitative"}}},{"data":{"values":[{"t":"Start:39.137","p":0},{"t":"chr3 Region:20.90 (kb)","p":26},{"t":"End:39.158 (Mb)","p":52}]},"mark":{"type":"text","font":"Liberation Sans","fontSize":43,"align":"center","baseline":"alphabetic","color":"#000000"},"encoding":{"x":{"field":"p","type":"quantitative","axis":null},"y":{"datum":-14.56,"type":"quantitative","axis":null},"text":{"field":"t"}}}]}
